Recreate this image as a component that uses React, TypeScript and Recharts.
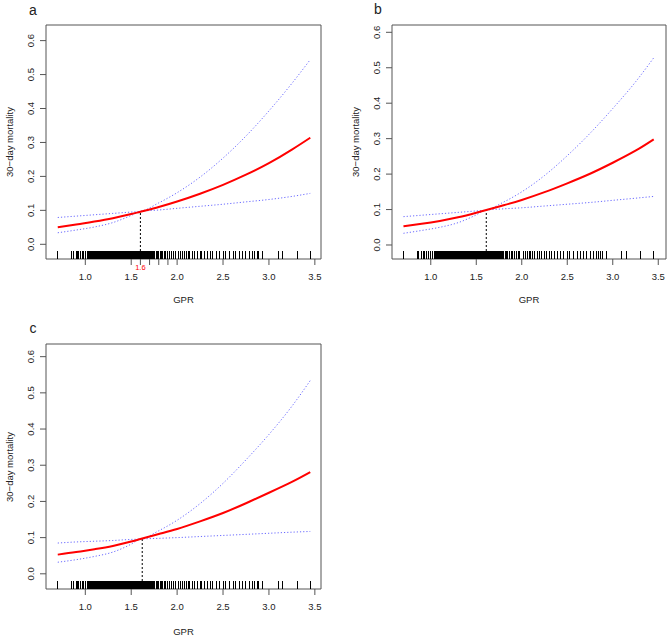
import React from "react";
import {
    ComposedChart,
    Line,
    Scatter,
    XAxis,
    YAxis,
    ReferenceLine,
    ReferenceArea,
} from "recharts";

const gpr = [0.7, 0.9, 1.1, 1.3, 1.5, 1.6, 1.8, 2.0, 2.25, 2.5, 2.75, 3.0, 3.25, 3.45];

// panel a
const fitA = [0.05, 0.058, 0.067, 0.077, 0.089, 0.096, 0.11, 0.126, 0.149, 0.175, 0.205, 0.239, 0.279, 0.314];
const upperA = [0.079, 0.083, 0.087, 0.091, 0.095, 0.097, 0.122, 0.152, 0.198, 0.254, 0.319, 0.393, 0.474, 0.544];
const lowerA = [0.034, 0.042, 0.051, 0.064, 0.085, 0.097, 0.101, 0.106, 0.112, 0.118, 0.125, 0.132, 0.141, 0.15];

// panel b
const fitB = [0.053, 0.06, 0.068, 0.078, 0.091, 0.098, 0.112, 0.127, 0.149, 0.174, 0.201, 0.232, 0.266, 0.298];
const upperB = [0.08, 0.084, 0.088, 0.092, 0.096, 0.098, 0.121, 0.15, 0.196, 0.252, 0.315, 0.385, 0.46, 0.528];
const lowerB = [0.033, 0.041, 0.05, 0.063, 0.085, 0.098, 0.102, 0.105, 0.11, 0.115, 0.12, 0.126, 0.132, 0.137];

// panel c
const fitC = [0.053, 0.06, 0.068, 0.077, 0.089, 0.096, 0.11, 0.124, 0.145, 0.168, 0.195, 0.224, 0.254, 0.281];
const upperC = [0.085, 0.088, 0.09, 0.092, 0.095, 0.096, 0.119, 0.148, 0.194, 0.25, 0.315, 0.385, 0.463, 0.534];
const lowerC = [0.032, 0.039, 0.048, 0.06, 0.082, 0.096, 0.098, 0.1, 0.103, 0.106, 0.109, 0.112, 0.115, 0.117];

// observed GPR values (rug)
const rugGpr = [
    0.7, 0.85, 0.87, 0.9, 0.92, 0.93, 0.95, 0.97, 0.98, 1.0, 1.02, 1.04, 1.05, 1.06, 1.07, 1.08,
    1.09, 1.1, 1.11, 1.12, 1.13, 1.14, 1.15, 1.16, 1.17, 1.18, 1.19, 1.2, 1.21, 1.22, 1.23, 1.24,
    1.25, 1.26, 1.27, 1.28, 1.29, 1.3, 1.31, 1.32, 1.33, 1.34, 1.35, 1.36, 1.37, 1.38, 1.39, 1.4,
    1.41, 1.42, 1.43, 1.44, 1.45, 1.46, 1.47, 1.48, 1.49, 1.5, 1.51, 1.52, 1.53, 1.54, 1.55, 1.56,
    1.57, 1.58, 1.59, 1.6, 1.61, 1.62, 1.63, 1.64, 1.65, 1.66, 1.67, 1.68, 1.69, 1.7, 1.71, 1.72,
    1.73, 1.74, 1.75, 1.77, 1.78, 1.79, 1.8, 1.82, 1.83, 1.84, 1.86, 1.87, 1.89, 1.9, 1.92, 1.94,
    1.96, 1.98, 2.02, 2.04, 2.06, 2.08, 2.1, 2.12, 2.14, 2.17, 2.19, 2.22, 2.25, 2.27, 2.3, 2.33,
    2.36, 2.39, 2.43, 2.46, 2.5, 2.53, 2.57, 2.61, 2.64, 2.68, 2.71, 2.75, 2.79, 2.82, 2.84, 2.87,
    2.89, 2.93, 3.1, 3.15, 3.31, 3.45,
];

const yTicks = [0, 0.1, 0.2, 0.3, 0.4, 0.5, 0.6];
const xTicks = [1.0, 1.5, 2.0, 2.5, 3.0, 3.5];
const xTicksCut = [1.0, 1.5, 1.6, 1.7, 1.8, 1.9, 2.0, 2.5, 3.0, 3.5];
const cutLabel = 1.6;

const FONT = '"Liberation Sans", Arial, Helvetica, sans-serif';
const AXIS = "#555";

type PanelProps = {
    left: number;
    top: number;
    width: number;
    height: number;
    marginRight: number;
    xAxisHeight: number;
    xDomain: [number, number];
    yDomain: [number, number];
    fit: number[];
    upper: number[];
    lower: number[];
    refX: number;
    refY: number;
    showCut?: boolean;
};

const Panel: React.FC<PanelProps> = (p) => {
    const data = gpr.map((x, i) => ({ x, fit: p.fit[i], upper: p.upper[i], lower: p.lower[i] }));
    const rug = rugGpr.map((x) => ({ x, y: p.yDomain[0] }));

    const XTick = (props: any) => {
        const { x, y, payload } = props;
        const v = payload.value as number;
        if (p.showCut && v === cutLabel) {
            return (
                <text x={x} y={y} dy={5} textAnchor="middle" fontSize={7.5} fill="#ff0000" fontFamily={FONT}>
                    {v.toFixed(1)}
                </text>
            );
        }
        if (!xTicks.includes(v)) return <g />;
        return (
            <text x={x} y={y} dy={15.4} textAnchor="middle" fontSize={9.5} fill="#222" fontFamily={FONT}>
                {v.toFixed(1)}
            </text>
        );
    };

    const YTick = (props: any) => {
        const { x, y, payload } = props;
        const cx = x - 9;
        return (
            <text
                x={cx}
                y={y}
                transform={`rotate(-90 ${cx} ${y})`}
                textAnchor="middle"
                dominantBaseline="central"
                fontSize={9.5}
                fill="#222"
                fontFamily={FONT}
            >
                {(payload.value as number).toFixed(1)}
            </text>
        );
    };

    return (
        <div style={{ position: "absolute", left: p.left, top: p.top }}>
            <ComposedChart
                width={p.width}
                height={p.height}
                data={data}
                margin={{ top: 25, right: p.marginRight, bottom: 0, left: 0 }}
            >
                <XAxis
                    dataKey="x"
                    type="number"
                    domain={p.xDomain}
                    ticks={p.showCut ? xTicksCut : xTicks}
                    allowDataOverflow
                    axisLine={false}
                    tickLine={{ stroke: AXIS }}
                    tickSize={6}
                    tickMargin={0}
                    height={p.xAxisHeight}
                    interval={0}
                    tick={XTick}
                />
                <YAxis
                    type="number"
                    domain={p.yDomain}
                    ticks={yTicks}
                    allowDataOverflow
                    axisLine={false}
                    tickLine={{ stroke: AXIS }}
                    tickSize={6}
                    tickMargin={0}
                    width={46}
                    interval={0}
                    tick={YTick}
                />
                <ReferenceArea
                    x1={p.xDomain[0]}
                    x2={p.xDomain[1]}
                    y1={p.yDomain[0]}
                    y2={p.yDomain[1]}
                    fill="none"
                    stroke={AXIS}
                    strokeWidth={1}
                    ifOverflow="visible"
                />
                <Scatter
                    data={rug}
                    dataKey="y"
                    isAnimationActive={false}
                    shape={(s: any) => (
                        <line
                            x1={s.cx}
                            x2={s.cx}
                            y1={s.cy}
                            y2={s.cy - 8}
                            stroke="#000"
                            strokeWidth={1}
                            shapeRendering="crispEdges"
                        />
                    )}
                />
                <ReferenceLine
                    segment={[
                        { x: p.refX, y: p.yDomain[0] },
                        { x: p.refX, y: p.refY },
                    ]}
                    stroke="#000"
                    strokeWidth={1}
                    strokeDasharray="2 2"
                />
                <Line
                    type="monotone"
                    dataKey="upper"
                    stroke="#6a6aff"
                    strokeWidth={1}
                    strokeDasharray="1.2 2"
                    dot={false}
                    isAnimationActive={false}
                />
                <Line
                    type="monotone"
                    dataKey="lower"
                    stroke="#6a6aff"
                    strokeWidth={1}
                    strokeDasharray="1.2 2"
                    dot={false}
                    isAnimationActive={false}
                />
                <Line
                    type="natural"
                    dataKey="fit"
                    stroke="#ff0000"
                    strokeWidth={2}
                    dot={false}
                    isAnimationActive={false}
                />
            </ComposedChart>
        </div>
    );
};

const Txt: React.FC<{ x: number; y: number; size: number; rotate?: boolean; children: React.ReactNode }> = ({
    x,
    y,
    size,
    rotate,
    children,
}) => (
    <div
        style={{
            position: "absolute",
            left: x,
            top: y,
            transform: `translate(-50%, -50%)${rotate ? " rotate(-90deg)" : ""}`,
            fontFamily: FONT,
            fontSize: size,
            color: "#222",
            whiteSpace: "nowrap",
            lineHeight: 1,
        }}
    >
        {children}
    </div>
);

const App: React.FC = () => {
    return (
        <div style={{ position: "absolute", left: 0, top: 0, width: 669, height: 637, background: "#fff" }}>
            <Panel
                left={0}
                top={0}
                width={334}
                height={300}
                marginRight={13}
                xAxisHeight={41}
                xDomain={[0.572, 3.567]}
                yDomain={[-0.0433, 0.646]}
                fit={fitA}
                upper={upperA}
                lower={lowerA}
                refX={1.6}
                refY={0.097}
                showCut
            />
            <Panel
                left={346}
                top={0}
                width={323}
                height={300}
                marginRight={3}
                xAxisHeight={41}
                xDomain={[0.574, 3.585]}
                yDomain={[-0.0395, 0.6206]}
                fit={fitB}
                upper={upperB}
                lower={lowerB}
                refX={1.61}
                refY={0.098}
            />
            <Panel
                left={0}
                top={319}
                width={334}
                height={318}
                marginRight={13}
                xAxisHeight={48}
                xDomain={[0.572, 3.567]}
                yDomain={[-0.042, 0.635]}
                fit={fitC}
                upper={upperC}
                lower={lowerC}
                refX={1.62}
                refY={0.096}
            />

            <Txt x={33} y={10} size={14}>a</Txt>
            <Txt x={378} y={9} size={14}>b</Txt>
            <Txt x={33} y={328} size={14}>c</Txt>

            <Txt x={10} y={142} size={9.5} rotate>30−day mortality</Txt>
            <Txt x={356} y={142} size={9.5} rotate>30−day mortality</Txt>
            <Txt x={10} y={467} size={9.5} rotate>30−day mortality</Txt>

            <Txt x={183.5} y={300} size={9.5}>GPR</Txt>
            <Txt x={529} y={300} size={9.5}>GPR</Txt>
            <Txt x={183.5} y={632} size={9.5}>GPR</Txt>
        </div>
    );
};

export default App;
